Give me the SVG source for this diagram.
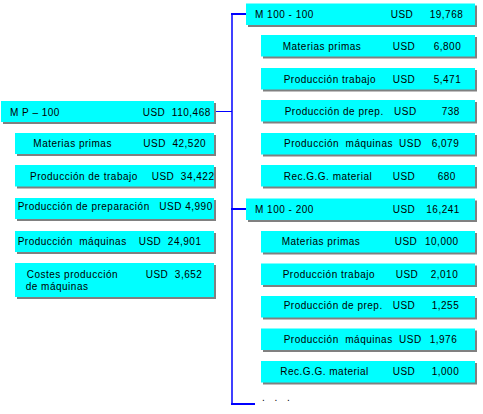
<svg xmlns="http://www.w3.org/2000/svg" width="483" height="414" viewBox="0 0 483 414">
<style>
.sh{fill:#808080}
.bx{fill:#00ffff}
text{font-family:"Liberation Sans",Arial,sans-serif;font-size:10px;fill:#000;letter-spacing:0.5px;white-space:pre}
.ln{stroke:#0000ff;fill:none}
</style>
<rect width="483" height="414" fill="#ffffff"/>
<g id="connectors">
<line class="ln" x1="232" y1="13" x2="232" y2="405" stroke-width="1.5"/>
<line class="ln" x1="231" y1="14" x2="246" y2="14" stroke-width="2"/>
<line class="ln" x1="214" y1="111.5" x2="232" y2="111.5" stroke-width="1"/>
<line class="ln" x1="231" y1="209" x2="246" y2="209" stroke-width="2"/>
<line class="ln" x1="231" y1="404" x2="255" y2="404" stroke-width="2"/>
</g>
<g id="mp100"><rect class="sh" x="3" y="103" width="213" height="21"/><rect class="bx" x="1" y="101" width="213" height="21"/><text x="10" y="115.5">M P – 100</text><text x="142.7" y="115.5" xml:space="preserve">USD  110,468</text></g>
<g id="l1"><rect class="sh" x="17" y="135" width="199" height="21"/><rect class="bx" x="15" y="133" width="199" height="21"/><text x="33.3" y="146.5">Materias primas</text><text x="143.3" y="146.5" xml:space="preserve">USD  42,520</text></g>
<g id="l2"><rect class="sh" x="17" y="167" width="199" height="21.5"/><rect class="bx" x="15" y="165" width="199" height="21.5"/><text x="30" y="180">Producción de trabajo</text><text x="151.7" y="180" xml:space="preserve">USD  34,422</text></g>
<g id="l3"><rect class="sh" x="17" y="200" width="199" height="21"/><rect class="bx" x="15" y="198" width="199" height="21"/><text x="17.7" y="209.5">Producción de preparación</text><text x="159.3" y="209.5">USD 4,990</text></g>
<g id="l4"><rect class="sh" x="17" y="233" width="199" height="21"/><rect class="bx" x="15" y="231" width="199" height="21"/><text x="17.7" y="244.5" xml:space="preserve">Producción  máquinas</text><text x="138.7" y="244.5" xml:space="preserve">USD  24,901</text></g>
<g id="l5"><rect class="sh" x="17" y="265" width="199" height="34"/><rect class="bx" x="15" y="263" width="199" height="34"/><text x="26.7" y="278">Costes producción</text><text x="25.7" y="289.5">de máquinas</text><text x="145.7" y="278" xml:space="preserve">USD  3,652</text></g>
<g id="m100100"><rect class="sh" x="248" y="5.5" width="229" height="21.5"/><rect class="bx" x="246" y="3.5" width="229" height="21.5"/><text x="255" y="17.5">M 100 - 100</text><text x="390.7" y="17.5">USD</text><text x="429.7" y="17.5">19,768</text></g>
<g id="a1"><rect class="sh" x="263" y="37" width="214" height="21.5"/><rect class="bx" x="261" y="35" width="214" height="21.5"/><text x="282.7" y="49.8">Materias primas</text><text x="392.7" y="49.8">USD</text><text x="433.7" y="49.8">6,800</text></g>
<g id="a2"><rect class="sh" x="263" y="70" width="214" height="21.5"/><rect class="bx" x="261" y="68" width="214" height="21.5"/><text x="283.7" y="82.8">Producción trabajo</text><text x="392.7" y="82.8">USD</text><text x="433.7" y="82.8">5,471</text></g>
<g id="a3"><rect class="sh" x="263" y="102" width="214" height="21.5"/><rect class="bx" x="261" y="100" width="214" height="21.5"/><text x="284.7" y="114.5">Producción de prep.</text><text x="394" y="114.5">USD</text><text x="441.7" y="114.5">738</text></g>
<g id="a4"><rect class="sh" x="263" y="135" width="214" height="21.5"/><rect class="bx" x="261" y="133" width="214" height="21.5"/><text x="284" y="147.3" xml:space="preserve">Producción  máquinas</text><text x="399" y="147.3">USD</text><text x="431.7" y="147.3">6,079</text></g>
<g id="a5"><rect class="sh" x="263" y="167" width="214" height="21.5"/><rect class="bx" x="261" y="165" width="214" height="21.5"/><text x="283.7" y="180">Rec.G.G. material</text><text x="392.7" y="180">USD</text><text x="437.7" y="180">680</text></g>
<g id="m100200"><rect class="sh" x="248" y="200.5" width="229" height="21.5"/><rect class="bx" x="246" y="198.5" width="229" height="21.5"/><text x="255" y="212.5">M 100 - 200</text><text x="392.7" y="212.5">USD</text><text x="426.3" y="212.5">16,241</text></g>
<g id="b1"><rect class="sh" x="263" y="233" width="214" height="21.5"/><rect class="bx" x="261" y="231" width="214" height="21.5"/><text x="281.7" y="244.5">Materias primas</text><text x="394.7" y="244.5">USD</text><text x="425" y="244.5">10,000</text></g>
<g id="b2"><rect class="sh" x="263" y="265.5" width="214" height="21.5"/><rect class="bx" x="261" y="263.5" width="214" height="21.5"/><text x="282.7" y="277.8">Producción trabajo</text><text x="395.7" y="277.8">USD</text><text x="430.7" y="277.8">2,010</text></g>
<g id="b3"><rect class="sh" x="263" y="298" width="214" height="21.5"/><rect class="bx" x="261" y="296" width="214" height="21.5"/><text x="283.7" y="308.8">Producción de prep.</text><text x="392.7" y="308.8">USD</text><text x="431.7" y="308.8">1,255</text></g>
<g id="b4"><rect class="sh" x="263" y="330.5" width="214" height="21.5"/><rect class="bx" x="261" y="328.5" width="214" height="21.5"/><text x="283.7" y="342.8" xml:space="preserve">Producción  máquinas</text><text x="399" y="342.8">USD</text><text x="429.7" y="342.8">1,976</text></g>
<g id="b5"><rect class="sh" x="263" y="363" width="214" height="21.5"/><rect class="bx" x="261" y="361" width="214" height="21.5"/><text x="280.3" y="374.5">Rec.G.G. material</text><text x="392.7" y="374.5">USD</text><text x="431.7" y="374.5">1,000</text></g>
<text x="262" y="401" style="letter-spacing:3.5px">. . .</text>
</svg>
